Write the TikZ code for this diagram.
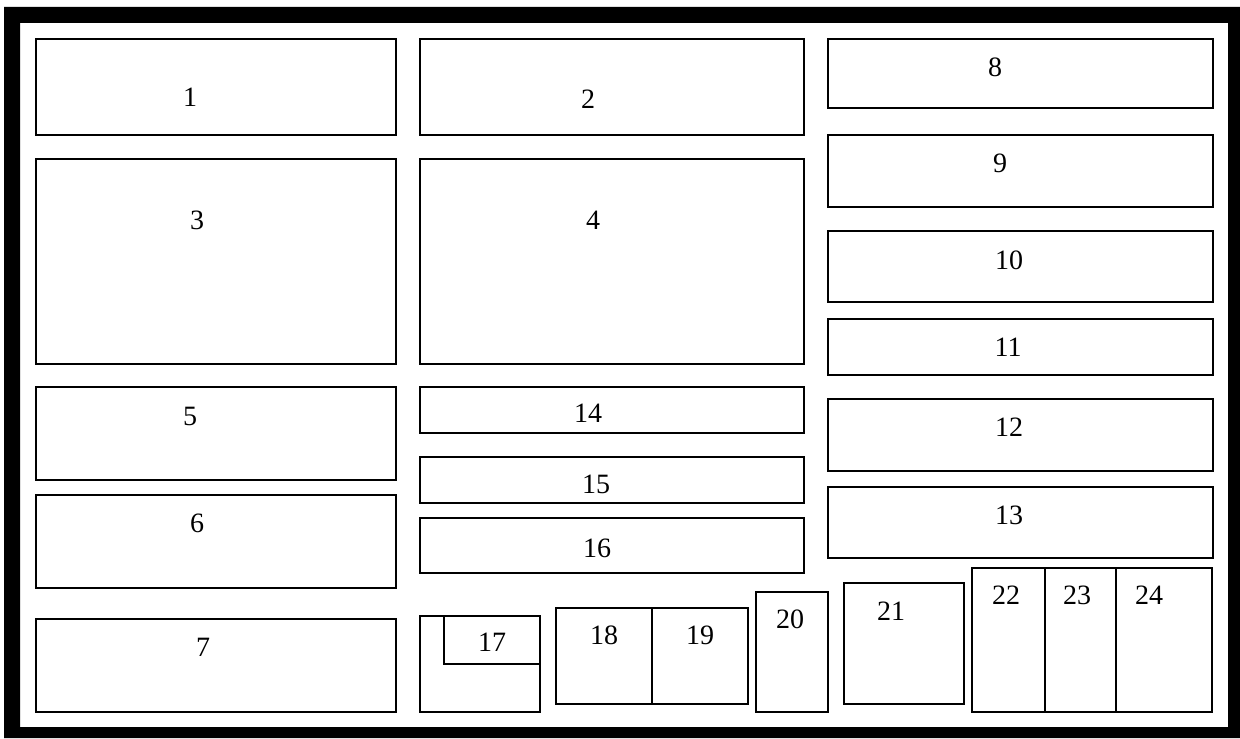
\documentclass[tikz,border=0pt]{standalone}
\usepackage{fontspec}
\setmainfont{Liberation Serif}
\begin{document}
\begin{tikzpicture}[x=0.5pt,y=-0.5pt,
  boxline/.style={draw=black,line width=1pt},
  lbl/.style={inner sep=0pt,font=\fontsize{14}{16}\selectfont}]
\useasboundingbox (0,0) rectangle (1240,738);
\fill[white] (0,0) rectangle (1240,738);
% frame
\fill[black,even odd rule] (4,7) rectangle (1240,738) (20,23) rectangle (1228,727);
% left column
\draw[boxline] (36,39) rectangle (396,135);
\draw[boxline] (36,159) rectangle (396,364);
\draw[boxline] (36,387) rectangle (396,480);
\draw[boxline] (36,495) rectangle (396,588);
\draw[boxline] (36,619) rectangle (396,712);
% middle column
\draw[boxline] (420,39) rectangle (804,135);
\draw[boxline] (420,159) rectangle (804,364);
\draw[boxline] (420,387) rectangle (804,433);
\draw[boxline] (420,457) rectangle (804,503);
\draw[boxline] (420,518) rectangle (804,573);
% right column
\draw[boxline] (828,39) rectangle (1213,108);
\draw[boxline] (828,135) rectangle (1213,207);
\draw[boxline] (828,231) rectangle (1213,302);
\draw[boxline] (828,319) rectangle (1213,375);
\draw[boxline] (828,399) rectangle (1213,471);
\draw[boxline] (828,487) rectangle (1213,558);
% bottom small boxes
\draw[boxline] (420,616) rectangle (540,712);
\draw[boxline] (444,616) rectangle (540,664);
\draw[boxline] (556,608) rectangle (748,704);
\draw[boxline] (652,608) -- (652,704);
\draw[boxline] (756,592) rectangle (828,712);
\draw[boxline] (844,583) rectangle (964,704);
\draw[boxline] (972,568) rectangle (1212,712);
\draw[boxline] (1045,568) -- (1045,712);
\draw[boxline] (1116,568) -- (1116,712);
% labels
\node[lbl] (l1) at (190,97) {1};
\node[lbl] (l2) at (588,99) {2};
\node[lbl] (l3) at (197,220) {3};
\node[lbl] (l4) at (593,220) {4};
\node[lbl] (l5) at (190,416) {5};
\node[lbl] (l6) at (197,523) {6};
\node[lbl] (l7) at (203,647) {7};
\node[lbl] (l8) at (995,67) {8};
\node[lbl] (l9) at (1000,163) {9};
\node[lbl] (l10) at (1009,260) {10};
\node[lbl] (l11) at (1008,347) {11};
\node[lbl] (l12) at (1009,427) {12};
\node[lbl] (l13) at (1009,515) {13};
\node[lbl] (l14) at (588,413) {14};
\begin{scope}
\clip (420,457) rectangle (804,503);
\node[lbl] (l15) at (596,484) {15};
\end{scope}
\node[lbl] (l16) at (597,548) {16};
\node[lbl] (l17) at (492,642) {17};
\node[lbl] (l18) at (604,635) {18};
\node[lbl] (l19) at (700,635) {19};
\node[lbl] (l20) at (790,619) {20};
\node[lbl] (l21) at (891,611) {21};
\node[lbl] (l22) at (1006,595) {22};
\node[lbl] (l23) at (1077,595) {23};
\node[lbl] (l24) at (1149,595) {24};
\end{tikzpicture}
\end{document}
